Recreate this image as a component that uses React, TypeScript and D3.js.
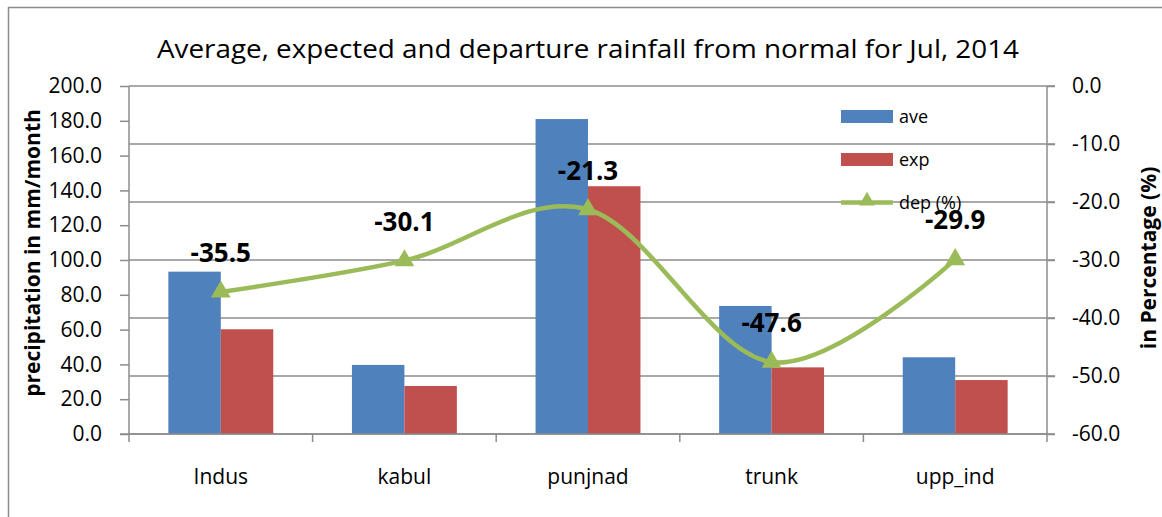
import React, { useEffect, useRef } from "react";
import * as d3 from "d3";

const categories = ["Indus", "kabul", "punjnad", "trunk", "upp_ind"];
const aveValues = [93.3, 39.7, 181.0, 73.6, 44.1];
const expValues = [60.2, 27.6, 142.4, 38.3, 31.0];
const depValues = [-35.5, -30.1, -21.3, -47.6, -29.9];
const leftTicks = [0, 20, 40, 60, 80, 100, 120, 140, 160, 180, 200];
const rightTicks = [0, -10, -20, -30, -40, -50, -60];

const FONT = "'Open Sans', 'DejaVu Sans', sans-serif";
const BLUE = "#4F81BD";
const RED = "#C0504D";
const GREEN = "#9BBB59";
const GRAY = "#8C8C8C";

// plain hyphen like the original, not d3's unicode minus
const fmt = (d: number) => d.toFixed(1);

// bar + line combo chart, two y axes
const App = () => {
  const ref = useRef<SVGSVGElement>(null);

  useEffect(() => {
    const svg = d3.select(ref.current);
    svg.selectAll("*").remove();

    const left = 129;
    const right = 1047;
    const top = 86;
    const bottom = 434;

    const x = d3.scaleBand().domain(categories).range([left, right]);
    const yL = d3.scaleLinear().domain([0, 200]).range([bottom, top]);
    const yR = d3.scaleLinear().domain([-60, 0]).range([bottom, top]);

    // outer frame
    svg
      .append("path")
      .attr("d", `M8.5,${517} L8.5,7.5 L${1170},7.5`)
      .attr("fill", "none")
      .attr("stroke", GRAY)
      .attr("stroke-width", 1.5);

    // title
    svg
      .append("text")
      .attr("x", 588)
      .attr("y", 58)
      .attr("text-anchor", "middle")
      .attr("textLength", 862)
      .attr("lengthAdjust", "spacingAndGlyphs")
      .style("font-family", FONT)
      .style("font-size", "25px")
      .style("fill", "#000")
      .text("Average, expected and departure rainfall from normal for Jul, 2014");

    // gridlines (from secondary axis ticks)
    svg
      .append("g")
      .selectAll("line")
      .data(rightTicks)
      .join("line")
      .attr("x1", left)
      .attr("x2", right + 8)
      .attr("y1", (d) => yR(d))
      .attr("y2", (d) => yR(d))
      .attr("stroke", GRAY)
      .attr("stroke-width", 1.5);

    // bars
    const sub = d3
      .scaleBand()
      .domain(["ave", "exp"])
      .range([0, x.bandwidth()])
      .paddingOuter(0.75)
      .paddingInner(0);

    const groups = svg
      .append("g")
      .selectAll("g")
      .data(categories)
      .join("g")
      .attr("transform", (d) => `translate(${x(d)},0)`);

    groups
      .append("rect")
      .attr("x", sub("ave")!)
      .attr("width", sub.bandwidth())
      .attr("y", (d, i) => yL(aveValues[i]))
      .attr("height", (d, i) => bottom - yL(aveValues[i]))
      .attr("fill", BLUE);

    groups
      .append("rect")
      .attr("x", sub("exp")!)
      .attr("width", sub.bandwidth())
      .attr("y", (d, i) => yL(expValues[i]))
      .attr("height", (d, i) => bottom - yL(expValues[i]))
      .attr("fill", RED);

    // axes
    const leftAxis = svg
      .append("g")
      .attr("transform", `translate(${left},0)`)
      .call(
        d3
          .axisLeft(yL)
          .tickValues(leftTicks)
          .tickSize(9)
          .tickPadding(18)
          .tickFormat((d) => fmt(d as number))
      );
    const rightAxis = svg
      .append("g")
      .attr("transform", `translate(${right},0)`)
      .call(
        d3
          .axisRight(yR)
          .tickValues(rightTicks)
          .tickSize(8)
          .tickPadding(17)
          .tickFormat((d) => fmt(d as number))
      );
    const bottomAxis = svg
      .append("g")
      .attr("transform", `translate(0,${bottom})`)
      .call(d3.axisBottom(x).tickSize(0).tickPadding(35));

    [leftAxis, rightAxis, bottomAxis].forEach((g) => {
      g.selectAll("path").attr("stroke", GRAY).attr("stroke-width", 1.5);
      g.selectAll("line").attr("stroke", GRAY).attr("stroke-width", 1.5);
      g.selectAll("text")
        .style("font-family", FONT)
        .style("font-size", "21px")
        .style("fill", "#000");
    });
    leftAxis.select(".domain").attr("d", `M0,${top}V${bottom + 8}`);
    rightAxis.select(".domain").attr("d", `M0,${top}V${bottom + 8}`);
    bottomAxis.select(".domain").attr("d", `M${left - 9},0H${right}`);
    rightAxis.selectAll("text").attr("text-anchor", "start");

    // category separators
    svg
      .append("g")
      .selectAll("line")
      .data(categories.slice(1))
      .join("line")
      .attr("x1", (d) => x(d)!)
      .attr("x2", (d) => x(d)!)
      .attr("y1", bottom)
      .attr("y2", bottom + 8)
      .attr("stroke", GRAY)
      .attr("stroke-width", 1.5);

    // axis titles
    svg
      .append("text")
      .attr("transform", `translate(40,${(top + bottom) / 2 - 7}) rotate(-90)`)
      .attr("text-anchor", "middle")
      .style("font-family", FONT)
      .style("font-size", "21px")
      .style("font-weight", "bold")
      .text("precipitation in mm/month");

    svg
      .append("text")
      .attr("transform", `translate(1156,${(top + bottom) / 2 - 2}) rotate(-90)`)
      .attr("text-anchor", "middle")
      .style("font-family", FONT)
      .style("font-size", "21px")
      .style("font-weight", "bold")
      .text("in Percentage (%)");

    // departure line
    const cx = (i: number) => x(categories[i])! + x.bandwidth() / 2;
    const line = d3
      .line<number>()
      .x((d, i) => cx(i))
      .y((d) => yR(d))
      .curve(d3.curveCardinal.tension(0));

    svg
      .append("path")
      .datum(depValues)
      .attr("d", line)
      .attr("fill", "none")
      .attr("stroke", GREEN)
      .attr("stroke-width", 4.5);

    const tri = d3.symbol(d3.symbolTriangle, 170);
    svg
      .append("g")
      .selectAll("path")
      .data(depValues)
      .join("path")
      .attr("d", tri)
      .attr("transform", (d, i) => `translate(${cx(i)},${yR(d)})`)
      .attr("fill", GREEN);

    svg
      .append("g")
      .selectAll("text")
      .data(depValues)
      .join("text")
      .attr("x", (d, i) => cx(i))
      .attr("y", (d) => yR(d) - 30)
      .attr("text-anchor", "middle")
      .style("font-family", FONT)
      .style("font-size", "26px")
      .style("font-weight", "bold")
      .text((d) => fmt(d));

    // legend
    const legend = svg.append("g").attr("transform", "translate(841,110)");
    const items = [
      { name: "ave", color: BLUE, type: "bar" },
      { name: "exp", color: RED, type: "bar" },
      { name: "dep (%)", color: GREEN, type: "line" },
    ];
    items.forEach((it, i) => {
      const g = legend.append("g").attr("transform", `translate(0,${i * 43})`);
      if (it.type === "bar") {
        g.append("rect")
          .attr("width", 52)
          .attr("height", 13)
          .attr("fill", it.color);
      } else {
        g.append("line")
          .attr("x1", 0)
          .attr("x2", 52)
          .attr("y1", 6.5)
          .attr("y2", 6.5)
          .attr("stroke", it.color)
          .attr("stroke-width", 4.5);
        g.append("path")
          .attr("d", d3.symbol(d3.symbolTriangle, 110)())
          .attr("transform", "translate(26,5)")
          .attr("fill", it.color);
      }
      g.append("text")
        .attr("x", 58)
        .attr("y", 13)
        .style("font-family", FONT)
        .style("font-size", "18px")
        .text(it.name);
    });
  }, []);

  return (
    <svg
      ref={ref}
      width={1162}
      height={517}
      style={{ position: "absolute", left: 0, top: 0, background: "#fff" }}
    />
  );
};

export default App;
